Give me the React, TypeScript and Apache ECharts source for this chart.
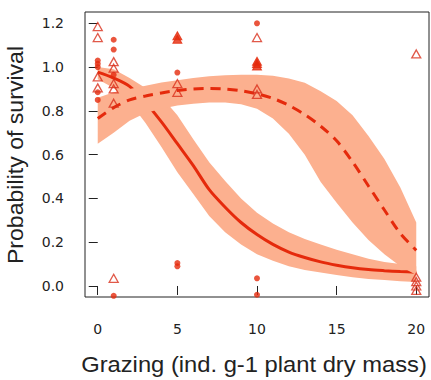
import React, { useEffect, useRef } from "react";
import * as echarts from "echarts";

// grazing levels at which the fitted curves were read
const xGrid = [0, 1, 2, 3, 4, 5, 6, 7, 8, 9, 10, 11, 12, 13, 14, 15, 16, 17, 18, 19, 20];

// solid fitted curve and its confidence band
const solidFit = [0.977, 0.95, 0.912, 0.838, 0.75, 0.65, 0.55, 0.44, 0.36, 0.29, 0.235, 0.19, 0.155, 0.13, 0.11, 0.095, 0.083, 0.075, 0.07, 0.066, 0.063];
const solidUpper = [1.0, 0.99, 0.95, 0.905, 0.865, 0.78, 0.67, 0.565, 0.48, 0.40, 0.335, 0.285, 0.245, 0.215, 0.19, 0.165, 0.145, 0.125, 0.11, 0.10, 0.09];
const solidLower = [0.945, 0.905, 0.84, 0.745, 0.635, 0.52, 0.42, 0.32, 0.245, 0.19, 0.145, 0.115, 0.09, 0.073, 0.062, 0.05, 0.04, 0.032, 0.027, 0.022, 0.018];

// dashed fitted curve and its confidence band
const dashedFit = [0.765, 0.815, 0.85, 0.868, 0.882, 0.893, 0.9, 0.902, 0.9, 0.892, 0.878, 0.857, 0.825, 0.783, 0.73, 0.663, 0.567, 0.457, 0.347, 0.24, 0.163];
const dashedUpper = [0.86, 0.885, 0.9, 0.915, 0.93, 0.94, 0.95, 0.958, 0.963, 0.965, 0.965, 0.96, 0.948, 0.928, 0.89, 0.845, 0.78, 0.685, 0.58, 0.45, 0.29];
const dashedLower = [0.65, 0.70, 0.755, 0.79, 0.81, 0.825, 0.833, 0.838, 0.838, 0.83, 0.81, 0.765, 0.695, 0.6, 0.475, 0.38, 0.29, 0.21, 0.145, 0.09, 0.05];

// observations
const dotPoints: [number, number][] = [
  [0, 1.03], [0, 1.015], [0, 1.0], [0, 0.885], [0, 0.85],
  [1, 1.125], [1, 1.08], [1, 0.965], [1, -0.045],
  [5, 0.975], [5, 0.105], [5, 0.09],
  [10, 1.2], [10, 0.035], [10, -0.04],
];
const openTriangles: [number, number][] = [
  [0, 1.185], [0, 1.135], [0, 0.955], [0, 0.905],
  [1, 1.025], [1, 0.995], [1, 0.925], [1, 0.9], [1, 0.835], [1, 0.035],
  [5, 0.925], [5, 0.885],
  [10, 1.135], [10, 0.9], [10, 0.875],
  [20, 1.06], [20, 0.04], [20, 0.02], [20, 0.0], [20, -0.02],
];
const filledTriangles: [number, number][] = [
  [5, 1.143], [5, 1.127],
  [10, 1.027], [10, 1.016], [10, 1.005],
];

const xTicks = [0, 5, 10, 15, 20];
const yTicks = [0, 0.2, 0.4, 0.6, 0.8, 1.0, 1.2];

const xTitle = "Grazing (ind. g-1 plant dry mass)";
const yTitle = "Probability of survival";

const RED = "#e52a0c";
const TRI = "#d9301c";
const BAND = "#fcb08f";
const TEXT = "#222222";
const FONT = "Liberation Sans, Arial, sans-serif";
const TICK_FONT = "DejaVu Sans, sans-serif";

function bandSeries(upper: number[], lower: number[], z: number) {
  return {
    type: "custom",
    data: [[0, 0]],
    silent: true,
    z,
    renderItem: (_params: any, api: any) => {
      const pts: number[][] = [];
      for (let i = 0; i < xGrid.length; i++) pts.push(api.coord([xGrid[i], upper[i]]));
      for (let i = xGrid.length - 1; i >= 0; i--) pts.push(api.coord([xGrid[i], lower[i]]));
      return { type: "polygon", shape: { points: pts }, style: { fill: BAND } };
    },
  };
}

export default function App() {
  const ref = useRef<HTMLDivElement>(null);
  useEffect(() => {
    if (!ref.current) return;
    const chart = echarts.init(ref.current, undefined, { renderer: "svg" });
    chart.setOption({
      animation: false,
      backgroundColor: "#ffffff",
      grid: {
        left: 85,
        top: 12,
        right: 2,
        bottom: 83,
        show: true,
        borderColor: "#222222",
        borderWidth: 1,
        backgroundColor: "transparent",
      },
      xAxis: {
        type: "value",
        min: -0.8,
        max: 20.8,
        axisLine: { show: false },
        splitLine: { show: false },
        axisTick: { show: true, customValues: xTicks, length: 9, lineStyle: { color: "#222222", width: 1 } },
        axisLabel: {
          customValues: xTicks,
          margin: 25,
          fontSize: 14,
          fontFamily: TICK_FONT,
          color: TEXT,
        },
      },
      yAxis: {
        type: "value",
        min: -0.0503,
        max: 1.2517,
        axisLine: { show: false },
        splitLine: { show: false },
        axisTick: { show: true, customValues: yTicks, length: 9, lineStyle: { color: "#222222", width: 1 } },
        axisLabel: {
          customValues: yTicks,
          margin: 21,
          fontSize: 14,
          fontFamily: TICK_FONT,
          color: TEXT,
          formatter: (v: number) => v.toFixed(1),
        },
      },
      graphic: [
        {
          type: "text",
          x: 254,
          y: 364,
          scaleX: 1.08,
          style: {
            text: xTitle,
            fontSize: 22,
            fontFamily: FONT,
            fill: TEXT,
            textAlign: "center",
            textVerticalAlign: "middle",
          },
        },
        {
          type: "text",
          x: 16,
          y: 155,
          rotation: Math.PI / 2,
          scaleX: 1.05,
          style: {
            text: yTitle,
            fontSize: 22,
            fontFamily: FONT,
            fill: TEXT,
            textAlign: "center",
            textVerticalAlign: "middle",
          },
        },
      ],
      series: [
        bandSeries(solidUpper, solidLower, 1),
        {
          type: "line",
          data: xGrid.map((x, i) => [x, solidFit[i]]),
          smooth: 0.3,
          showSymbol: false,
          z: 2,
          lineStyle: { color: RED, width: 3 },
        },
        bandSeries(dashedUpper, dashedLower, 3),
        {
          type: "line",
          data: xGrid.map((x, i) => [x, dashedFit[i]]),
          smooth: 0.3,
          showSymbol: false,
          z: 4,
          lineStyle: { color: RED, width: 3, type: [10, 7], cap: "butt" },
        },
        {
          type: "scatter",
          data: dotPoints,
          symbol: "circle",
          symbolSize: 6,
          z: 5,
          itemStyle: { color: RED },
        },
        {
          type: "scatter",
          data: openTriangles,
          symbol: "triangle",
          symbolSize: [9, 8],
          z: 5,
          itemStyle: { color: "rgba(0,0,0,0)", borderColor: TRI, borderWidth: 1.3 },
        },
        {
          type: "scatter",
          data: filledTriangles,
          symbol: "triangle",
          symbolSize: [9, 8],
          z: 5,
          itemStyle: { color: RED, borderColor: RED, borderWidth: 1 },
        },
      ],
    });
    return () => chart.dispose();
  }, []);
  return (
    <div
      ref={ref}
      style={{ position: "fixed", left: 0, top: 0, width: 431, height: 380, background: "#fff" }}
    />
  );
}
